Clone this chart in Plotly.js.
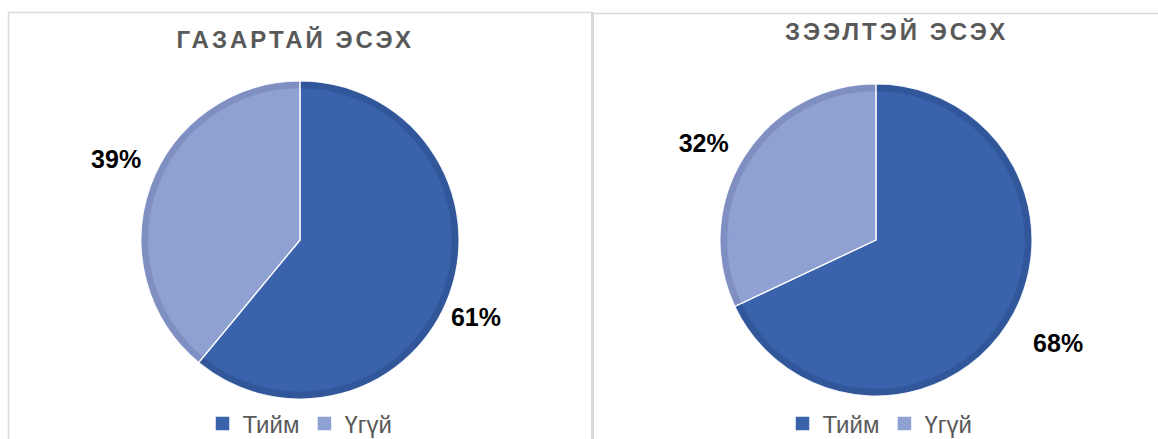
<!DOCTYPE html>
<html>
<head>
<meta charset="utf-8">
<script src="https://cdn.plot.ly/plotly-3.0.1.min.js"></script>
<style>
  html, body { margin: 0; padding: 0; background: #ffffff; }
  #chart { width: 1158px; height: 439px; }
</style>
</head>
<body>
<div id="chart"></div>
<script>
// ---- data ----
const categories = ['Тийм', 'Үгүй'];
const landValues = [61, 39];   // ГАЗАРТАЙ ЭСЭХ
const loanValues = [68, 32];   // ЗЭЭЛТЭЙ ЭСЭХ
const chartTitles = ['ГАЗАРТАЙ ЭСЭХ', 'ЗЭЭЛТЭЙ ЭСЭХ'];

// ---- styling ----
const W = 1158, H = 439;
const fillColors = ['#3A63AB', '#8FA1D3'];
const rimColors = ['#31579A', '#7F8FC1'];
const FONT = 'Liberation Sans, Arial, sans-serif';

function dom(cx, cy, r) {
  return {
    x: [(cx - r) / W, (cx + r) / W],
    y: [1 - (cy + r) / H, 1 - (cy - r) / H]
  };
}

function pieSet(values, cx, cy, R, legendId, group, labelOpts) {
  const common = {
    type: 'pie', labels: categories, values: values,
    sort: false, direction: 'clockwise', rotation: 0,
    hoverinfo: 'skip', legendgroup: group
  };
  const rim = Object.assign({}, common, {
    domain: dom(cx, cy, R),
    marker: { colors: rimColors, line: { width: 0 } },
    textinfo: 'none', showlegend: false
  });
  const inner = Object.assign({}, common, {
    domain: dom(cx, cy, R - 8),
    marker: { colors: fillColors, line: { color: fillColors, width: 1.5 } },
    textinfo: 'none', showlegend: true, legend: legendId
  });
  const seps = Object.assign({}, common, {
    domain: dom(cx, cy, R),
    marker: { colors: ['rgba(0,0,0,0)', 'rgba(0,0,0,0)'], line: { color: 'rgba(255,255,255,0.85)', width: 1.2 } },
    textinfo: 'none', showlegend: false
  });
  const pulls = labelOpts.pull || [0, 0];
  const pullMax = Math.max.apply(null, pulls);
  const lbl = Object.assign({}, common, {
    domain: dom(cx, cy, (R + labelOpts.extra) * (1 + pullMax)),
    rotation: labelOpts.rotation || 0,
    pull: pulls,
    marker: { colors: ['rgba(0,0,0,0)', 'rgba(0,0,0,0)'], line: { width: 0 } },
    textinfo: 'percent', textposition: 'outside',
    textfont: { family: FONT, size: 25, color: '#000000', weight: 'bold' },
    showlegend: false
  });
  return [rim, inner, seps, lbl];
}

const data = [].concat(
  pieSet(landValues, 300, 240, 159, 'legend', 'left', { extra: 3, rotation: 7.5, pull: [0, 0.055] }),
  pieSet(loanValues, 876, 240, 156, 'legend2', 'right', { extra: 12, rotation: 1, pull: [0.07, 0] })
);

function px(x) { return x / W; }
function py(y) { return 1 - y / H; }

const borderColor = '#D9D9D9';
const shapes = [
  { type: 'line', xref: 'paper', yref: 'paper', x0: px(8.5), x1: px(8.5), y0: py(12), y1: py(445), line: { color: borderColor, width: 1.5 } },
  { type: 'line', xref: 'paper', yref: 'paper', x0: px(8), x1: px(592), y0: py(12.5), y1: py(12.5), line: { color: borderColor, width: 1.5 } },
  { type: 'line', xref: 'paper', yref: 'paper', x0: px(592.5), x1: px(592.5), y0: py(12), y1: py(445), line: { color: borderColor, width: 3 } },
  { type: 'line', xref: 'paper', yref: 'paper', x0: px(592), x1: px(1160), y0: py(13.5), y1: py(13.5), line: { color: borderColor, width: 1.5 } }
];

const annotations = [
  { text: chartTitles[0], xref: 'paper', yref: 'paper', x: px(295), y: py(39), xanchor: 'center', yanchor: 'middle', showarrow: false,
    font: { family: FONT, size: 24, color: '#595959', weight: 'bold' } },
  { text: chartTitles[1], xref: 'paper', yref: 'paper', x: px(896), y: py(31), xanchor: 'center', yanchor: 'middle', showarrow: false,
    font: { family: FONT, size: 24, color: '#595959', weight: 'bold' } }
];

const legendStyle = {
  orientation: 'h', xanchor: 'center', yanchor: 'middle', traceorder: 'normal',
  font: { family: FONT, size: 24, color: '#595959' },
  bgcolor: 'rgba(0,0,0,0)', itemwidth: 30, tracegroupgap: 0
};

const layout = {
  width: W, height: H,
  margin: { l: 0, r: 0, t: 0, b: 0, autoexpand: false },
  paper_bgcolor: '#ffffff',
  showlegend: true,
  legend: Object.assign({}, legendStyle, { x: px(300), y: py(424) }),
  legend2: Object.assign({}, legendStyle, { x: px(880), y: py(424) }),
  shapes: shapes,
  annotations: annotations
};

Plotly.newPlot('chart', data, layout, { displayModeBar: false, staticPlot: true }).then(function () {
  document.querySelectorAll('.annotation-text').forEach(function (t) {
    t.style.letterSpacing = '3px';
  });
});
</script>
</body>
</html>
